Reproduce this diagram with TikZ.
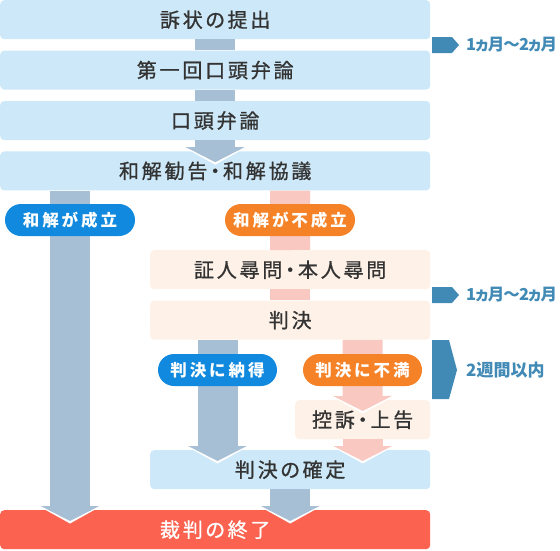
\documentclass[tikz,border=0pt]{standalone}
\usepackage{fontspec}
\setmainfont{Noto Sans CJK JP}
\newfontfamily\boxfont[LetterSpace=14, RawFeature={+palt;embolden=0.9}]{Noto Sans CJK JP}
\newfontfamily\pillfont[LetterSpace=18]{Noto Sans CJK JP}
\newfontfamily\notefont[RawFeature={+palt}]{Noto Sans CJK JP}
\newfontfamily\monthfont[LetterSpace=-5, RawFeature={+palt}]{Noto Sans CJK JP}
\usetikzlibrary{arrows.meta, positioning}

\definecolor{boxblue}{RGB}{205,232,248}
\definecolor{boxpeach}{RGB}{254,241,232}
\definecolor{barblue}{RGB}{167,191,213}
\definecolor{barpink}{RGB}{248,200,193}
\definecolor{pillblue}{RGB}{16,137,222}
\definecolor{pillorange}{RGB}{246,130,40}
\definecolor{endred}{RGB}{251,99,80}
\definecolor{tagblue}{RGB}{65,138,181}
\definecolor{textgray}{RGB}{51,51,51}

\pgfdeclarelayer{front}
\pgfsetlayers{main,front}

\begin{document}
\begin{tikzpicture}[x=1pt, y=-1pt]

% --- Define Styles ---
\tikzset{
  mainbox/.style={rectangle, rounded corners=4pt, minimum width=430pt, minimum height=39pt, inner sep=0pt, fill=boxblue, text=textgray, font=\boxfont\fontsize{20}{20}\selectfont},
  subbox/.style={mainbox, minimum width=280pt, fill=boxpeach},
  pill/.style={rectangle, rounded corners=16pt, minimum width=130pt, minimum height=32pt, inner sep=0pt, text=white, font=\pillfont\bfseries\fontsize{16.5}{16.5}\selectfont},
  note/.style={anchor=west, inner sep=0pt, text=tagblue, font=\notefont\bfseries\fontsize{17}{17}\selectfont},
  monthnote/.style={note, font=\monthfont\bfseries\fontsize{16.5}{16.5}\selectfont},
  bar/.style={line width=40pt, draw=barblue},
  pinkbar/.style={line width=40pt, draw=barpink},
  arrow/.style={-{Triangle[width=58pt,length=15pt]}, shorten >=-11pt,
    preaction={draw=white, -{Triangle[width=64pt,length=18pt]}, shorten >=-13.5pt}},
}
\useasboundingbox (0,0) rectangle (560,550);

% --- Nodes ---
\node (suso) [mainbox, anchor=north west] at (0,0) {訴状の提出};
\node (daiichi) [mainbox, below=11pt of suso] {第一回口頭弁論};
\node (koutou) [mainbox, below=11pt of daiichi] {口頭弁論};
\node (wakai) [mainbox, below=11pt of koutou] {和解勧告・和解協議};

\node (jinmon) [subbox, anchor=north west] at (150,250) {証人尋問・本人尋問};
\node (hanketsu) [subbox, below=11pt of jinmon] {判決};
\node (kouso) [subbox, anchor=north west, minimum width=135pt] at (295,400) {控訴・上告};
\node (kakutei) [subbox, anchor=north west, fill=boxblue] at (150,450) {判決の確定};
\node (owari) [mainbox, anchor=north west, fill=endred, text=white] at (0,510) {裁判の終了};

\begin{pgfonlayer}{front}
\node (seiritsu) [pill, fill=pillblue] at (70,220) {和解が成立};
\node (fuseiritsu) [pill, fill=pillorange] at (290,220) {和解が不成立};
\node (nattoku) [pill, fill=pillblue, minimum width=119pt] at (217.5,370) {判決に納得};
\node (fuman) [pill, fill=pillorange, minimum width=119pt] at (362.5,370) {判決に不満};
\end{pgfonlayer}

% --- Arrows ---
\draw [bar] (suso.south) -- (daiichi.north);
\draw [bar] (daiichi.south) -- (koutou.north);
\draw [bar, arrow] (koutou.south) -- (wakai.north);
\draw [bar, arrow] (wakai.south -| seiritsu) -- (owari.north -| seiritsu);
\draw [pinkbar] (wakai.south -| fuseiritsu) -- (jinmon.north);
\draw [pinkbar] (jinmon.south) -- (hanketsu.north);
\draw [bar, arrow] (hanketsu.south -| nattoku) -- (kakutei.north -| nattoku);
\draw [pinkbar, arrow] (hanketsu.south -| fuman) -- (kouso.north);
\draw [pinkbar, arrow] (kouso.south) -- (kakutei.north -| kouso);
\draw [bar, arrow] (kakutei.south) -- (owari.north -| kakutei);

% --- Periods ---
\fill [tagblue] (432,37) -- (452,37) -- (459,45) -- (452,53) -- (432,53) -- cycle;
\node (kikan1) [monthnote] at (466,45) {1ヵ月〜2ヵ月};
\fill [tagblue] (432,287) -- (452,287) -- (459,295) -- (452,303) -- (432,303) -- cycle;
\node (kikan2) [monthnote] at (466,295) {1ヵ月〜2ヵ月};
\fill [tagblue] (432,340) -- (449,340) -- (457,370) -- (449,399) -- (432,399) -- cycle;
\node (kikan3) [note] at (466,370) {2週間以内};

\end{tikzpicture}
\end{document}
